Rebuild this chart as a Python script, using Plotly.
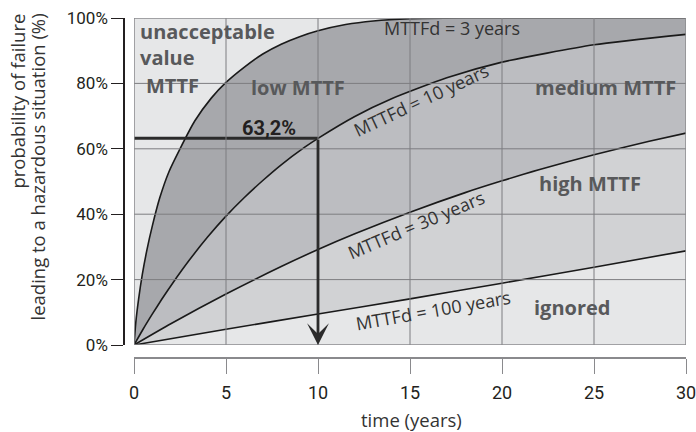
import plotly.graph_objects as go

# failure probability (%) against time (years)
t_mttf3 = [0, 0.1, 0.25, 0.45, 0.7, 1.0, 1.4, 1.9, 2.5, 3.3, 4.2, 5.0, 6.0, 7.0, 8.0, 9.0, 10, 11.5, 13, 15, 18, 22, 30]
p_mttf3 = [0, 7, 14, 21.5, 29, 36.5, 45, 53, 60, 68.5, 75.5, 80.3, 85, 89, 92, 94.3, 96.1, 98, 99.1, 99.8, 100, 100, 100]

t_mttf10 = [0, 0.5, 1, 1.5, 2.1, 3, 4, 5, 6, 7, 8, 9.28, 10, 12, 14, 17, 20, 25, 30]
p_mttf10 = [0, 4.9, 9.5, 13.9, 18.9, 25.9, 33, 39.4, 45.1, 50.3, 55.1, 60.5, 63.2, 69.9, 75.3, 81.7, 86.5, 91.8, 95]

t_mttf30 = [0, 2, 5, 8, 10, 12, 15, 18, 20, 22, 25, 28, 30]
p_mttf30 = [0, 6.5, 15.6, 24, 29.2, 34, 40.6, 46.6, 50.2, 53.6, 58.2, 62.3, 64.8]

t_mttf100 = [0, 5, 10, 15, 20, 25, 30]
p_mttf100 = [0, 4.8, 9.5, 14.1, 18.9, 23.8, 28.8]

curves = [
    ("MTTFd = 3 years", t_mttf3, p_mttf3, "#a7a8ac"),
    ("MTTFd = 10 years", t_mttf10, p_mttf10, "#bcbdc1"),
    ("MTTFd = 30 years", t_mttf30, p_mttf30, "#d1d2d4"),
    ("MTTFd = 100 years", t_mttf100, p_mttf100, "#e6e7e8"),
]

x_ticks = [0, 5, 10, 15, 20, 25, 30]
y_ticks = [0, 20, 40, 60, 80, 100]
y_tick_text = ["0%", "20%", "40%", "60%", "80%", "100%"]

# the 63,2% reference point at t = MTTFd = 10 years
ref_t = 10
ref_p = 63.2

narrow = "Roboto, Liberation Sans, sans-serif"
body = "Open Sans, Noto Sans, sans-serif"

fig = go.Figure()

for name, tv, pv, fillc in curves:
    fig.add_trace(go.Scatter(
        x=tv, y=pv, mode="lines", name=name,
        line=dict(color="#1a1a1a", width=1.6, shape="spline", smoothing=0.6),
        fill="tozeroy", fillcolor=fillc,
        hoverinfo="skip", showlegend=False
    ))

# horizontal 63,2% guide
fig.add_trace(go.Scatter(
    x=[0, ref_t], y=[ref_p, ref_p], mode="lines",
    line=dict(color="#2b2b2b", width=3),
    hoverinfo="skip", showlegend=False
))

shapes = []
# grid drawn on top of the filled bands
for xv in x_ticks[1:-1]:
    shapes.append(dict(type="line", xref="x", yref="y", x0=xv, x1=xv, y0=0, y1=100,
                       line=dict(color="#7d7d80", width=1), layer="above"))
for yv in y_ticks[1:-1]:
    shapes.append(dict(type="line", xref="x", yref="y", x0=0, x1=30, y0=yv, y1=yv,
                       line=dict(color="#7d7d80", width=1), layer="above"))
shapes.append(dict(type="rect", xref="x", yref="y", x0=0, x1=30, y0=0, y1=100,
                   line=dict(color="#8a8a8d", width=1.5), layer="above"))

annotations = [
    # vertical arrow down to the time axis
    dict(x=ref_t, y=0, ax=ref_t, ay=ref_p, xref="x", yref="y", axref="x", ayref="y",
         text="", showarrow=True, arrowhead=3, arrowsize=1.3, arrowwidth=2.8,
         arrowcolor="#2b2b2b"),
    dict(x=7.35, y=66.4, text="<b>63,2%</b>", showarrow=False,
         font=dict(family=narrow, size=20, color="#231f20")),
]

region_font = dict(family=body, size=20, color="#58595b")
for txt, xv, yv, anchor in [
    ("<b>unacceptable</b>", 0.2, 95.8, "left"),
    ("<b>value</b>", 0.2, 87.9, "left"),
    ("<b>MTTF</b>", 0.55, 79.5, "left"),
    ("<b>low MTTF</b>", 8.9, 78.6, "center"),
    ("<b>medium MTTF</b>", 25.6, 78.9, "center"),
    ("<b>high MTTF</b>", 24.8, 49.5, "center"),
    ("<b>ignored</b>", 23.8, 11.6, "center"),
]:
    annotations.append(dict(x=xv, y=yv, text=txt, showarrow=False, xanchor=anchor,
                            font=region_font))

curve_font = dict(family=body, size=18, color="#333333")
for txt, xv, yv, ang in [
    ("MTTFd = 3 years", 17.3, 96.9, 0),
    ("MTTFd = 10 years", 15.6, 74.9, -25),
    ("MTTFd = 30 years", 15.3, 36.6, -23),
    ("MTTFd = 100 years", 16.3, 10.6, -10),
]:
    annotations.append(dict(x=xv, y=yv, text=txt, showarrow=False, textangle=ang,
                            font=curve_font))

# axis titles
title_font = dict(family=body, size=18.5, color="#333333")
annotations.append(dict(x=-0.1886, y=1.0176, xref="paper", yref="paper",
                        text="probability of failure", textangle=-90,
                        xanchor="center", yanchor="top", showarrow=False,
                        font=title_font))
annotations.append(dict(x=-0.153, y=1.0176, xref="paper", yref="paper",
                        text="leading to a hazardous situation (%)", textangle=-90,
                        xanchor="center", yanchor="top", showarrow=False,
                        font=title_font))
annotations.append(dict(x=0.511, y=-0.182, xref="paper", yref="paper",
                        text="time (years)", xanchor="center", yanchor="middle",
                        showarrow=False, font=title_font))

fig.update_layout(
    width=696, height=432,
    margin=dict(l=124, r=10, t=18, b=74),
    paper_bgcolor="white",
    plot_bgcolor="#e6e7e8",
    shapes=shapes,
    annotations=annotations,
    xaxis=dict(
        domain=[10 / 562, 1], range=[0, 30], anchor="free", position=0,
        tickvals=x_ticks, ticks="outside", ticklen=15, tickcolor="#8a8a8d",
        tickwidth=1, showline=True, linecolor="#8a8a8d", linewidth=1.5,
        showgrid=False, zeroline=False, fixedrange=True, automargin=False,
        ticklabeloverflow="allow", ticklabelstandoff=4,
        tickfont=dict(family=narrow, size=18, color="#231f20"),
    ),
    yaxis=dict(
        domain=[13 / 340, 1], range=[0, 100], anchor="free", position=0,
        tickvals=y_ticks, ticktext=y_tick_text, ticks="outside", ticklen=12,
        tickcolor="#231f20", tickwidth=1.2, showline=True, linecolor="#231f20",
        linewidth=1.5, showgrid=False, zeroline=False, fixedrange=True,
        automargin=False,
        tickfont=dict(family=narrow, size=17, color="#231f20"),
    ),
)

fig.write_html("out.html", config={"displayModeBar": False},
               post_script="document.body.style.margin='0px';")
